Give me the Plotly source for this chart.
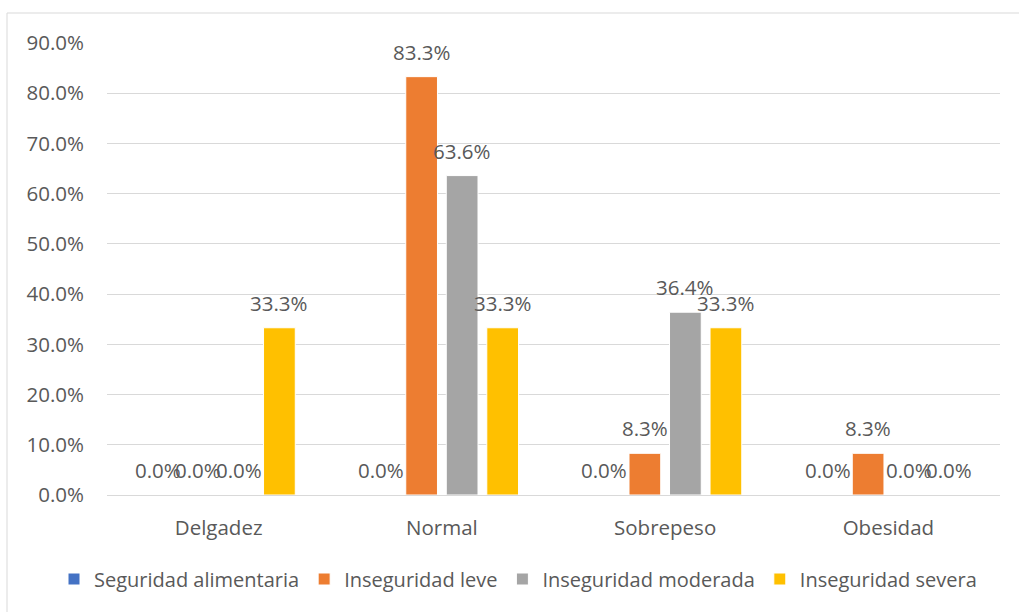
import plotly.graph_objects as go

categories = ["Delgadez", "Normal", "Sobrepeso", "Obesidad"]
series_names = ["Seguridad alimentaria", "Inseguridad leve", "Inseguridad moderada", "Inseguridad severa"]
seguridad_alimentaria = [0.0, 0.0, 0.0, 0.0]
inseguridad_leve = [0.0, 83.3, 8.3, 8.3]
inseguridad_moderada = [0.0, 63.6, 36.4, 0.0]
inseguridad_severa = [33.3, 33.3, 33.3, 0.0]
series_values = [seguridad_alimentaria, inseguridad_leve, inseguridad_moderada, inseguridad_severa]
colors = ["#4472C4", "#ED7D31", "#A5A5A5", "#FFC000"]
y_ticks = [0, 10, 20, 30, 40, 50, 60, 70, 80, 90]

W, H = 1019, 612
ML, MR, MT, MB = 107, 19, 43, 117
BARGAP = 0.274
BARGROUPGAP = 0.217
TEXT = "#595959"
FONT = "Open Sans"
FS = 20.5

fig = go.Figure()
for name, vals, col in zip(series_names, series_values, colors):
    fig.add_trace(go.Bar(
        x=categories, y=vals, name=name,
        marker=dict(color=col, line=dict(color="white", width=1)),
    ))

# value labels above each bar, placed at the centre of its slot in the group
n = len(series_names)
slot = (1 - BARGAP) / n
annotations = []
for k, vals in enumerate(series_values):
    off = (k - (n - 1) / 2) * slot
    for i, v in enumerate(vals):
        annotations.append(dict(
            x=i + off, y=v, xref="x", yref="y", text=f"{v:.1f}%",
            showarrow=False, yanchor="middle", yshift=25,
            font=dict(family=FONT, size=FS, color=TEXT),
        ))

plot_w = W - ML - MR
plot_h = H - MT - MB
fig.update_layout(
    width=W, height=H,
    margin=dict(l=ML, r=MR, t=MT, b=MB),
    paper_bgcolor="white", plot_bgcolor="white",
    barmode="group", bargap=BARGAP, bargroupgap=BARGROUPGAP,
    font=dict(family=FONT, size=FS, color=TEXT),
    annotations=annotations,
    showlegend=True,
    legend=dict(
        orientation="h", x=(54 - ML) / plot_w, xanchor="left",
        y=-(579 - (H - MB)) / plot_h, yanchor="middle",
        font=dict(family=FONT, size=20, color=TEXT),
        itemwidth=30, tracegroupgap=0,
    ),
    shapes=[dict(
        type="rect", xref="paper", yref="paper",
        x0=(7 - ML) / plot_w, x1=(W + 5 - ML) / plot_w,
        y0=-(H + 5 - (H - MB)) / plot_h, y1=(H - MB - 13) / plot_h,
        line=dict(color="#D9D9D9", width=1), fillcolor="rgba(0,0,0,0)", layer="below",
    )],
)
fig.update_xaxes(
    type="category", showgrid=False, showline=False, zeroline=False,
    ticks="", ticklabelstandoff=18,
    tickfont=dict(family=FONT, size=FS, color=TEXT),
)
fig.update_yaxes(
    range=[0, 90], tickvals=y_ticks, ticktext=[f"{t:.1f}%" for t in y_ticks],
    showgrid=True, gridcolor="#D9D9D9", gridwidth=1,
    zeroline=True, zerolinecolor="#D9D9D9", zerolinewidth=1,
    showline=False, ticks="", ticklabelstandoff=22,
    tickfont=dict(family=FONT, size=FS, color=TEXT),
)

fig.write_html("out.html")
